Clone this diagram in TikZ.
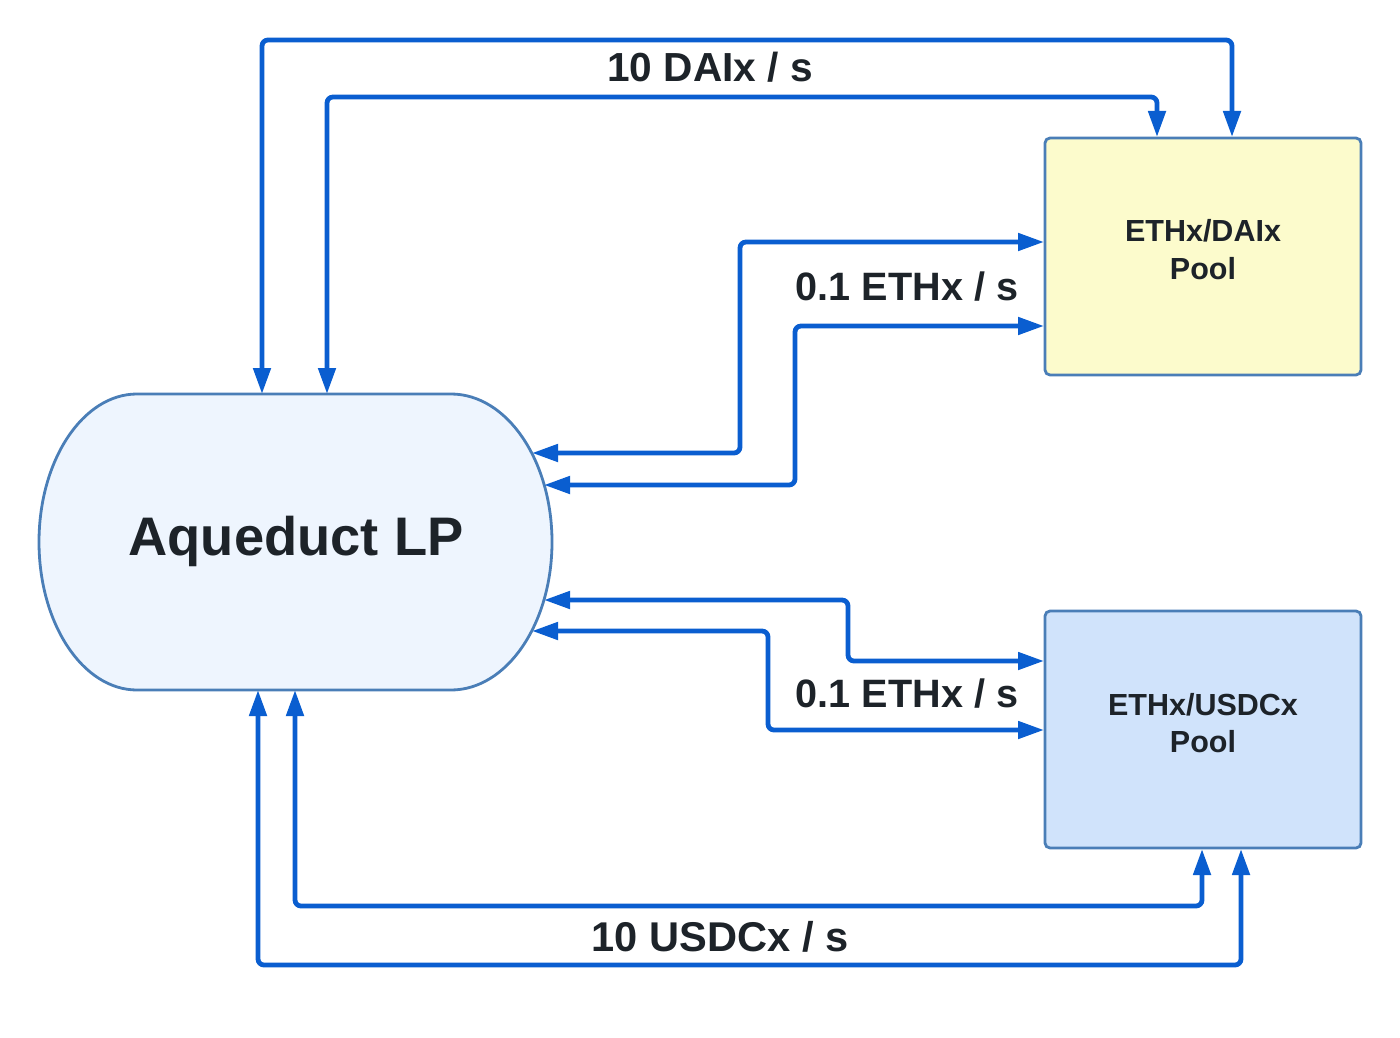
\documentclass[tikz,border=0pt]{standalone}
\usepackage{fontspec}
\setmainfont{Liberation Sans}
\usetikzlibrary{arrows.meta}
\definecolor{flowblue}{RGB}{10,94,208}
\definecolor{edgeblue}{RGB}{74,126,183}
\definecolor{daifill}{RGB}{252,251,204}
\definecolor{usdcfill}{RGB}{208,227,251}
\definecolor{aqfill}{RGB}{238,245,254}
\definecolor{txt}{RGB}{29,35,41}
\begin{document}
\begin{tikzpicture}[x=0.5pt,y=-0.5pt,
  flow/.style={draw=flowblue, line width=2.4pt, rounded corners=3pt,
    {Triangle[length=13pt,width=8.5pt]}-{Triangle[length=13pt,width=8.5pt]}},
  pool/.style={draw=edgeblue, line width=1.4pt, rounded corners=2.5pt,
    minimum width=158pt, minimum height=118.5pt, inner sep=0pt},
  pooltext/.style={anchor=base, text=txt, inner sep=0pt,
    font=\fontsize{15.25pt}{18pt}\selectfont\bfseries},
  flowlabel/.style={anchor=base, text=txt, inner sep=0pt,
    font=\fontsize{20.3pt}{24pt}\selectfont\bfseries}]
\useasboundingbox (0,0) rectangle (1400,1037);

% Aqueduct LP shape
\draw[draw=edgeblue, fill=aqfill, line width=1.4pt]
  (137,394) -- (451,394) arc[start angle=-90, end angle=90, x radius=101, y radius=148]
  -- (137,690) arc[start angle=90, end angle=270, x radius=98, y radius=148] -- cycle;
\node[anchor=base, text=txt, inner sep=0pt,
  font=\fontsize{27.15pt}{32pt}\selectfont\bfseries] (aq) at (296,555) {Aqueduct LP};

% Pools
\node[pool, fill=daifill] (dai) at (1203,256.5) {};
\node[pooltext] (dait1) at (1203,242) {ETHx/DAIx};
\node[pooltext] (dait2) at (1203,279) {Pool};
\node[pool, fill=usdcfill] (usdc) at (1203,729.5) {};
\node[pooltext] (usdct1) at (1203,715) {ETHx/USDCx};
\node[pooltext] (usdct2) at (1203,752) {Pool};

% attach points
\coordinate (aqT1) at (262,394);
\coordinate (aqT2) at (327,394);
\coordinate (aqB1) at (258,690);
\coordinate (aqB2) at (295,690);
\coordinate (aqR1) at (532,453);
\coordinate (aqR2) at (544,485);
\coordinate (aqR3) at (544,600);
\coordinate (aqR4) at (532,631);
\coordinate (daiT1) at (1232,137);
\coordinate (daiT2) at (1157,137);
\coordinate (daiL1) at (1044,242);
\coordinate (daiL2) at (1044,326);
\coordinate (usdcL1) at (1044,661);
\coordinate (usdcL2) at (1044,730);
\coordinate (usdcB1) at (1241,849);
\coordinate (usdcB2) at (1202,849);

% connectors
\draw[flow] (aqT1) -- (262,40) -- (1232,40) -- (daiT1);
\draw[flow] (aqT2) -- (327,97) -- (1157,97) -- (daiT2);
\draw[flow] (aqR1) -- (740,453) -- (740,242) -- (daiL1);
\draw[flow] (aqR2) -- (795,485) -- (795,326) -- (daiL2);
\draw[flow] (aqR3) -- (848,600) -- (848,661) -- (usdcL1);
\draw[flow] (aqR4) -- (768,631) -- (768,730) -- (usdcL2);
\draw[flow] (aqB2) -- (295,906) -- (1202,906) -- (usdcB2);
\draw[flow] (aqB1) -- (258,965) -- (1241,965) -- (usdcB1);

% labels
\node[flowlabel] (l1) at (710,81.5) {10 DAIx / s};
\node[flowlabel, font=\fontsize{19.8pt}{24pt}\selectfont\bfseries] (l2) at (907,300) {0.1 ETHx / s};
\node[flowlabel, font=\fontsize{19.8pt}{24pt}\selectfont\bfseries] (l3) at (907,707) {0.1 ETHx / s};
\node[flowlabel, font=\fontsize{20.8pt}{24pt}\selectfont\bfseries] (l4) at (720,951) {10 USDCx / s};
\end{tikzpicture}
\end{document}
